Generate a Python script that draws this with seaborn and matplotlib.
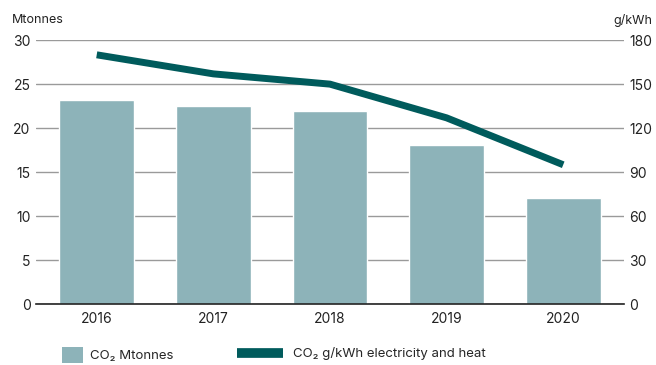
import matplotlib
matplotlib.use("Agg")
import matplotlib.pyplot as plt
import seaborn as sns
import pandas as pd
from matplotlib.patches import Patch
from matplotlib.lines import Line2D

years = ["2016", "2017", "2018", "2019", "2020"]
co2_mtonnes = [23.2, 22.5, 21.9, 18.1, 12.1]
co2_gkwh = [170, 157, 150, 127, 95]
left_ticks = [0, 5, 10, 15, 20, 25, 30]
right_ticks = [0, 30, 60, 90, 120, 150, 180]

bar_color = "#8db3b9"
line_color = "#005b5c"

sns.set_theme(style="white")
plt.rcParams['font.family'] = ['Inter', 'DejaVu Sans']

df = pd.DataFrame({"year": years, "mt": co2_mtonnes, "g": co2_gkwh})

fig = plt.figure(figsize=(6.56, 3.65), dpi=100)
ax = fig.add_axes([0.055, 0.167, 0.896, 0.723])
sns.barplot(data=df, x="year", y="mt", color=bar_color, width=0.64,
            saturation=1, ax=ax, zorder=2)
ax.set_ylim(0, 30)
ax.set_yticks(left_ticks)
ax.set_xlim(-0.52, 4.52)
ax.grid(axis="y", color="#9a9a9a", linewidth=1, zorder=0)
ax.set_axisbelow(True)
for s in ["top", "right", "left"]:
    ax.spines[s].set_visible(False)
ax.spines["bottom"].set_color("#222222")
ax.spines["bottom"].set_linewidth(1.2)
ax.set_xlabel("")
ax.set_ylabel("")
ax.tick_params(axis="both", length=0, labelsize=10, colors="#222222", pad=4)
ax.tick_params(axis="x", pad=6)

ax2 = ax.twinx()
sns.lineplot(x=list(range(len(years))), y=co2_gkwh, color=line_color,
             linewidth=5, ax=ax2, zorder=3)
for ln in ax2.lines:
    ln.set_solid_capstyle("butt")
    ln.set_solid_joinstyle("round")
ax2.set_ylim(0, 180)
ax2.set_yticks(right_ticks)
for s in ["top", "right", "left", "bottom"]:
    ax2.spines[s].set_visible(False)
ax2.tick_params(axis="y", length=0, labelsize=10, colors="#222222", pad=4)
ax2.set_ylabel("")
ax2.grid(False)

fig.text(0.018, 0.945, "Mtonnes", fontsize=9, color="#222222", va="center", ha="left")
fig.text(0.995, 0.945, "g/kWh", fontsize=9, color="#222222", va="center", ha="right")

fig.legend([Patch(facecolor=bar_color, edgecolor="none")], ["CO₂ Mtonnes"],
           loc="center left", bbox_to_anchor=(62 / 656, 1 - 355 / 365),
           frameon=False, fontsize=9.5, handlelength=1.6, handleheight=1.4,
           handletextpad=0.55, borderpad=0, borderaxespad=0)
fig.legend([Line2D([0], [0], color=line_color, linewidth=7,
                   solid_capstyle="butt")],
           ["CO₂ g/kWh electricity and heat"],
           loc="center left", bbox_to_anchor=(237 / 656, 1 - 354 / 365),
           frameon=False, fontsize=9.5, handlelength=3.5,
           handletextpad=0.75, borderpad=0, borderaxespad=0)

fig.savefig("out.png", dpi=100)
